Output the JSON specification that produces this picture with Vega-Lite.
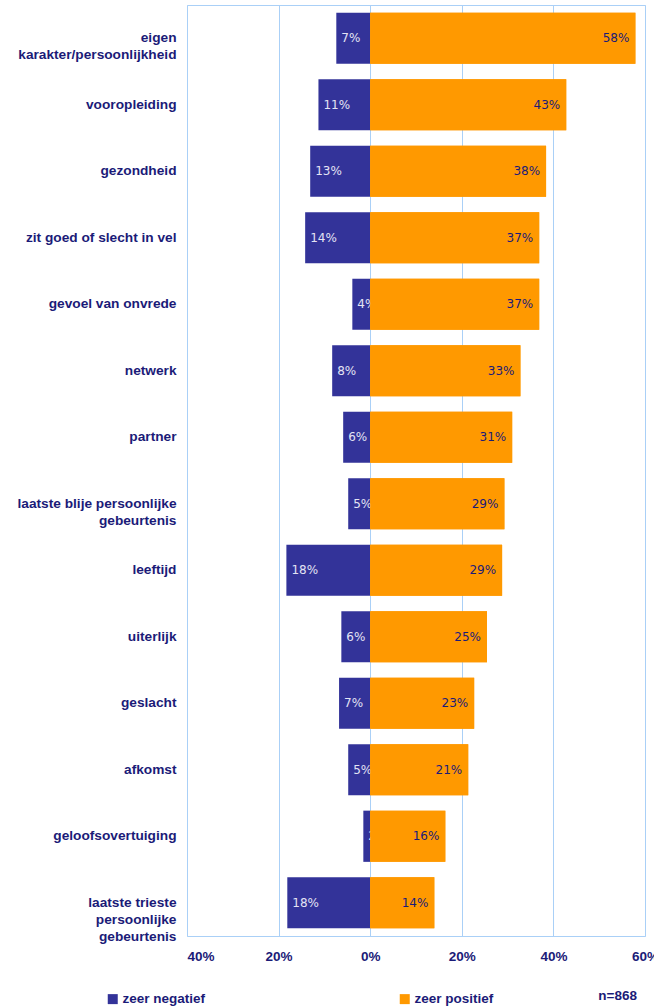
{
  "$schema": "https://vega.github.io/schema/vega-lite/v6.json",
  "autosize": "none",
  "width": 458,
  "height": 931,
  "padding": {"left": 187, "top": 5, "right": 9, "bottom": 71},
  "background": "white",
  "config": {
    "view": {"stroke": "#aad0f7", "strokeWidth": 1},
    "font": "Liberation Sans"
  },
  "title": {
    "text": "n=868",
    "orient": "bottom",
    "anchor": "end",
    "frame": "group",
    "baseline": "top",
    "font": "Liberation Sans",
    "fontSize": 13.5,
    "fontWeight": "bold",
    "color": "#1b1b78",
    "offset": -17,
    "dx": -8
  },
  "data": {
    "values": [
      {"categorie": "eigen|karakter/persoonlijkheid", "oordeel": "zeer negatief", "waarde": -7.4, "label": "7%"},
      {"categorie": "eigen|karakter/persoonlijkheid", "oordeel": "zeer positief", "waarde": 57.9, "label": "58%"},
      {"categorie": "vooropleiding", "oordeel": "zeer negatief", "waarde": -11.3, "label": "11%"},
      {"categorie": "vooropleiding", "oordeel": "zeer positief", "waarde": 42.8, "label": "43%"},
      {"categorie": "gezondheid", "oordeel": "zeer negatief", "waarde": -13.1, "label": "13%"},
      {"categorie": "gezondheid", "oordeel": "zeer positief", "waarde": 38.4, "label": "38%"},
      {"categorie": "zit goed of slecht in vel", "oordeel": "zeer negatief", "waarde": -14.2, "label": "14%"},
      {"categorie": "zit goed of slecht in vel", "oordeel": "zeer positief", "waarde": 36.9, "label": "37%"},
      {"categorie": "gevoel van onvrede", "oordeel": "zeer negatief", "waarde": -3.9, "label": "4%"},
      {"categorie": "gevoel van onvrede", "oordeel": "zeer positief", "waarde": 36.9, "label": "37%"},
      {"categorie": "netwerk", "oordeel": "zeer negatief", "waarde": -8.3, "label": "8%"},
      {"categorie": "netwerk", "oordeel": "zeer positief", "waarde": 32.8, "label": "33%"},
      {"categorie": "partner", "oordeel": "zeer negatief", "waarde": -5.9, "label": "6%"},
      {"categorie": "partner", "oordeel": "zeer positief", "waarde": 31.0, "label": "31%"},
      {"categorie": "laatste blije persoonlijke|gebeurtenis", "oordeel": "zeer negatief", "waarde": -4.8, "label": "5%"},
      {"categorie": "laatste blije persoonlijke|gebeurtenis", "oordeel": "zeer positief", "waarde": 29.3, "label": "29%"},
      {"categorie": "leeftijd", "oordeel": "zeer negatief", "waarde": -18.3, "label": "18%"},
      {"categorie": "leeftijd", "oordeel": "zeer positief", "waarde": 28.8, "label": "29%"},
      {"categorie": "uiterlijk", "oordeel": "zeer negatief", "waarde": -6.3, "label": "6%"},
      {"categorie": "uiterlijk", "oordeel": "zeer positief", "waarde": 25.5, "label": "25%"},
      {"categorie": "geslacht", "oordeel": "zeer negatief", "waarde": -6.8, "label": "7%"},
      {"categorie": "geslacht", "oordeel": "zeer positief", "waarde": 22.7, "label": "23%"},
      {"categorie": "afkomst", "oordeel": "zeer negatief", "waarde": -4.8, "label": "5%"},
      {"categorie": "afkomst", "oordeel": "zeer positief", "waarde": 21.4, "label": "21%"},
      {"categorie": "geloofsovertuiging", "oordeel": "zeer negatief", "waarde": -1.5, "label": "2%"},
      {"categorie": "geloofsovertuiging", "oordeel": "zeer positief", "waarde": 16.4, "label": "16%"},
      {"categorie": "laatste trieste|persoonlijke|gebeurtenis", "oordeel": "zeer negatief", "waarde": -18.1, "label": "18%"},
      {"categorie": "laatste trieste|persoonlijke|gebeurtenis", "oordeel": "zeer positief", "waarde": 14.0, "label": "14%"}
    ]
  },
  "encoding": {
    "y": {
      "field": "categorie",
      "type": "nominal",
      "sort": null,
      "scale": {"paddingInner": 0.23, "paddingOuter": 0.115},
      "axis": {
        "title": null,
        "domain": false,
        "ticks": false,
        "grid": false,
        "labelExpr": "split(datum.label, '|')",
        "labelFont": "Liberation Sans",
        "labelFontSize": 13.7,
        "labelFontWeight": "bold",
        "labelColor": "#1b1b78",
        "labelPadding": 11,
        "labelLimit": 0,
        "labelLineHeight": 17
      }
    },
    "x": {
      "field": "waarde",
      "type": "quantitative",
      "stack": null,
      "scale": {"domain": [-40, 60], "nice": false, "zero": false},
      "axis": {
        "title": null,
        "values": [-40, -20, 0, 20, 40, 60],
        "labelExpr": "abs(datum.value) + '%'",
        "domain": false,
        "ticks": false,
        "grid": true,
        "gridColor": "#aad0f7",
        "gridWidth": 1,
        "gridOpacity": 1,
        "labelFont": "Liberation Sans",
        "labelFontSize": 13.5,
        "labelFontWeight": "bold",
        "labelColor": "#1b1b78",
        "labelPadding": 13,
        "labelAlign": {"condition": {"test": "datum.value == -40", "value": "left"}, "value": "center"}
      }
    }
  },
  "layer": [
    {
      "mark": {"type": "bar"},
      "encoding": {
        "color": {
          "field": "oordeel",
          "type": "nominal",
          "scale": {"domain": ["zeer negatief", "zeer positief"], "range": ["#333399", "#FF9900"]},
          "legend": {
            "title": null,
            "orient": "none",
            "legendX": -81,
            "legendY": 987,
            "direction": "horizontal",
            "columns": 2,
            "columnPadding": 192,
            "symbolType": "square",
            "symbolSize": 100,
            "symbolStrokeWidth": 0,
            "labelOffset": 3,
            "labelFont": "Liberation Sans",
            "labelFontSize": 13.5,
            "labelFontWeight": "bold",
            "labelColor": "#1b1b78",
            "labelLimit": 0
          }
        }
      }
    },
    {
      "transform": [{"filter": "datum.oordeel == 'zeer negatief'"}],
      "mark": {"type": "text", "align": "left", "baseline": "middle", "dx": 5, "font": "DejaVu Sans", "fontSize": 12, "fill": "#e4e4f4"},
      "encoding": {"text": {"field": "label"}}
    },
    {
      "transform": [{"filter": "datum.oordeel == 'zeer positief'"}],
      "mark": {"type": "bar", "color": "#FF9900"},
      "encoding": {}
    },
    {
      "transform": [{"filter": "datum.oordeel == 'zeer positief'"}],
      "mark": {"type": "text", "align": "right", "baseline": "middle", "dx": -6, "font": "DejaVu Sans", "fontSize": 12, "fill": "#1b1b78"},
      "encoding": {"text": {"field": "label"}}
    }
  ]
}
